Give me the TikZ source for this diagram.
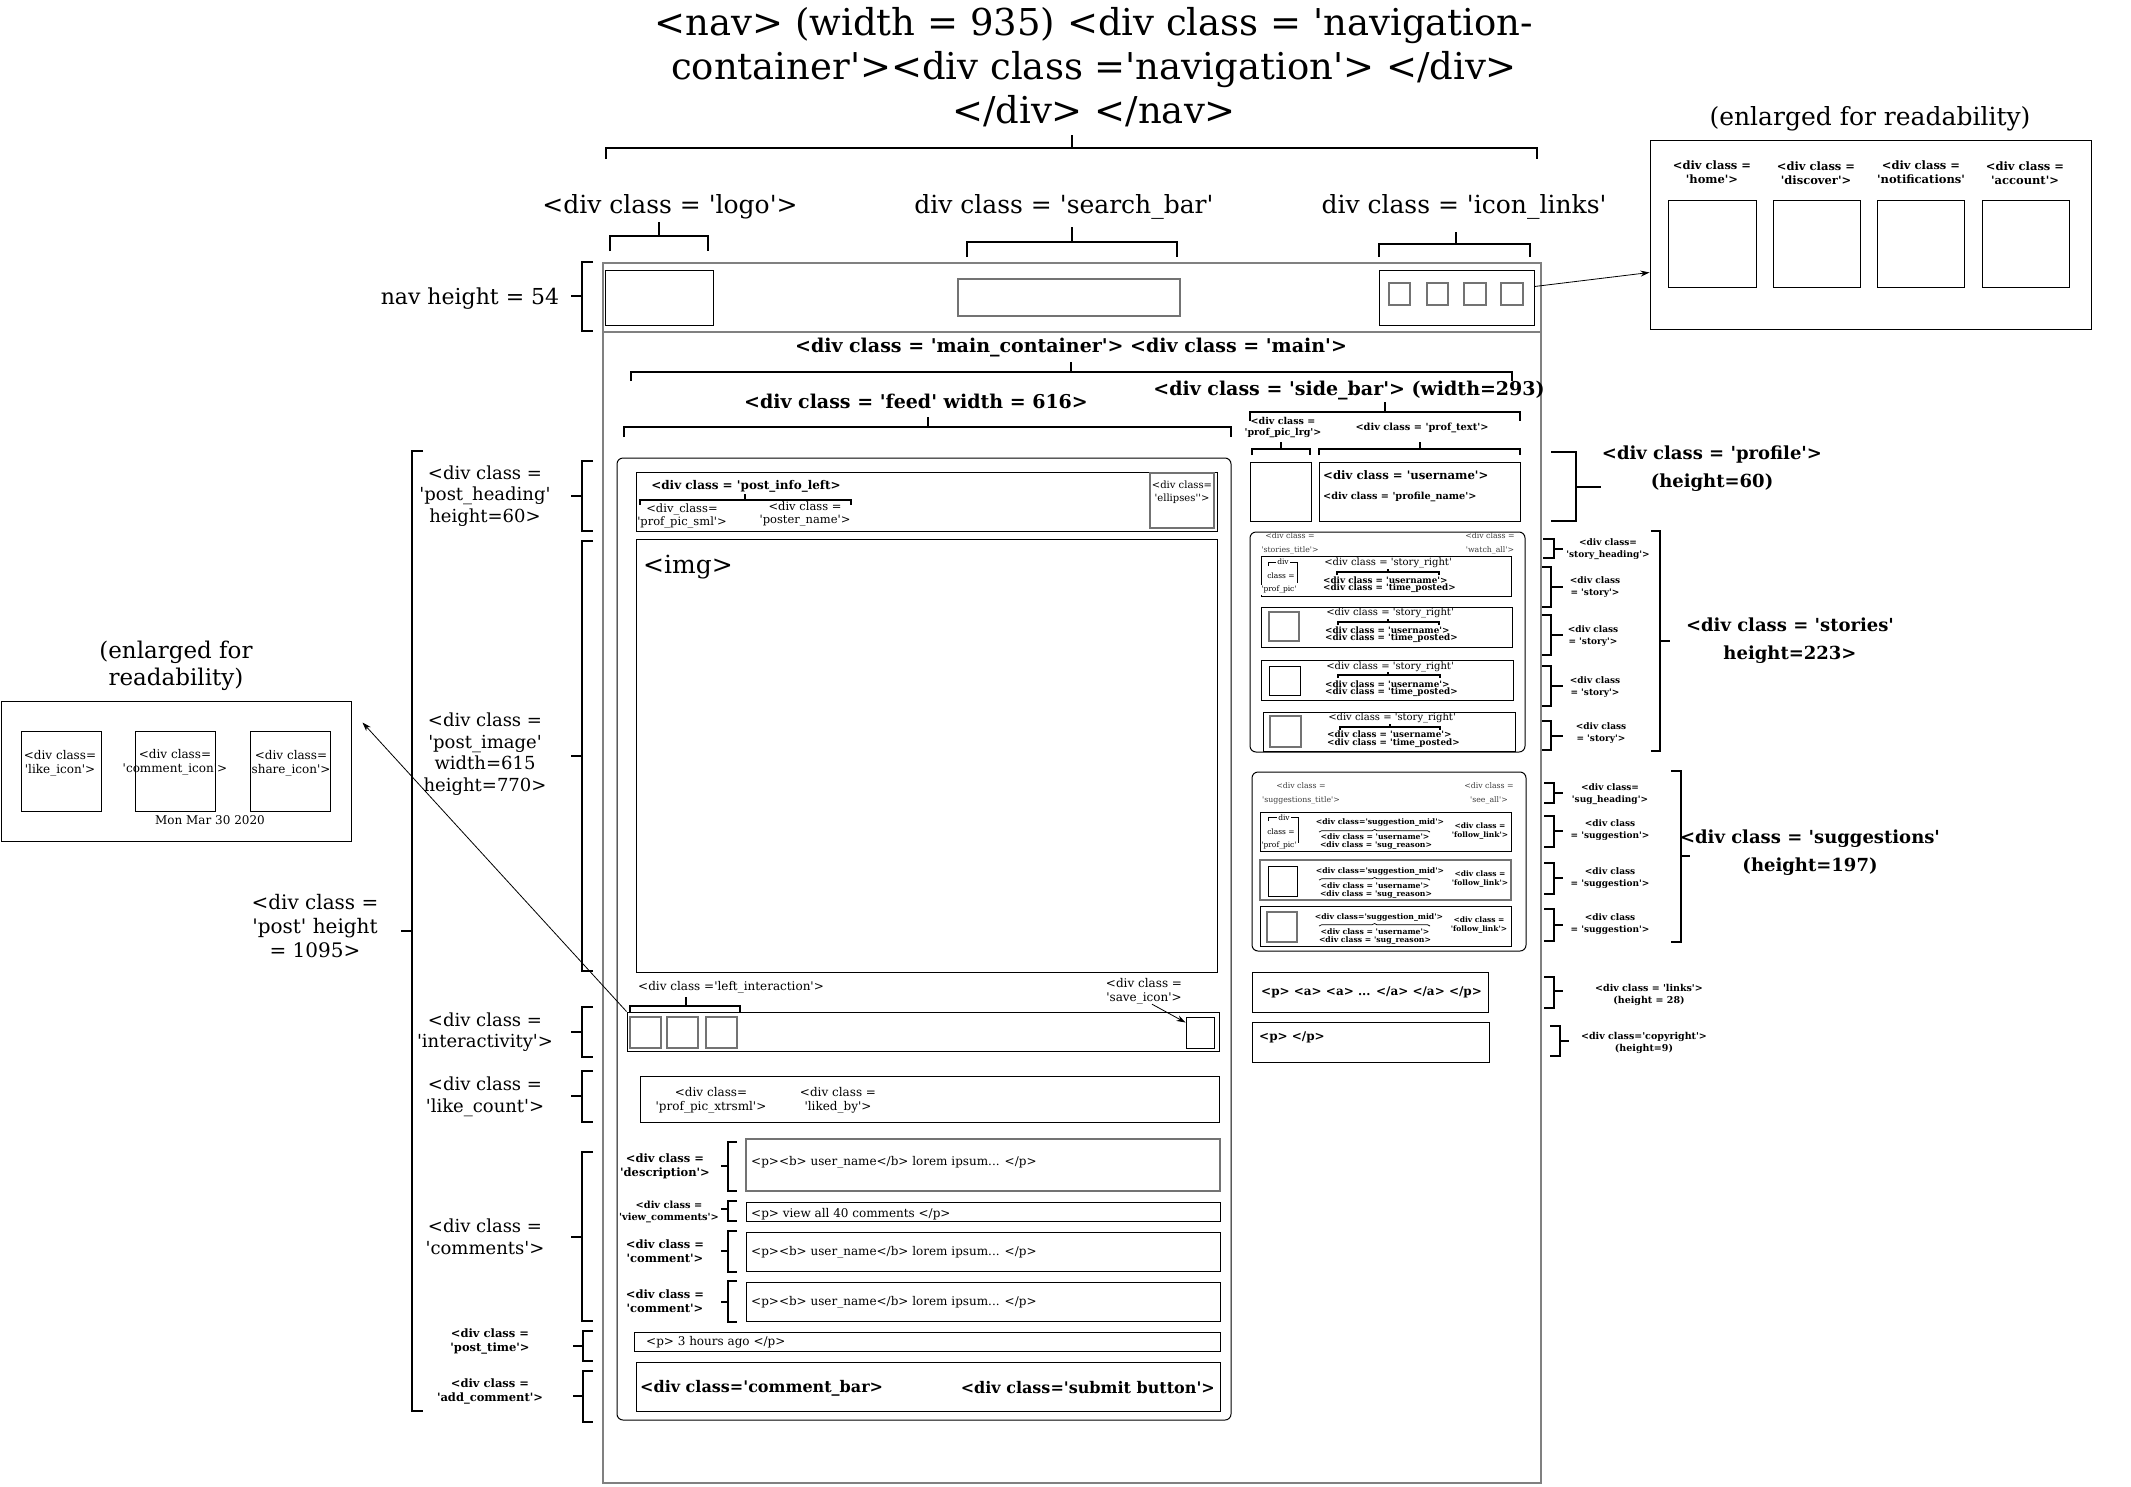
\documentclass[tikz,border=0pt]{standalone}
\usepackage{fontspec}
\setmainfont{DejaVu Serif}[Ligatures=TeXOff]
\usetikzlibrary{fit,decorations.pathreplacing,arrows.meta}
\definecolor{frm}{gray}{0.5}
\newcommand\fz[2]{\fontsize{#1}{#2}\selectfont}
\newcommand\bx[6][box]{\node[#1,fit={(#3,#4) (#5,#6)}] (#2) {};}
\newcommand\tx[5][]{\node[txt,#1] (#2) at (#3,#4) {#5};}
% side bracket: vertical x, top, bottom, end x, tick x, tick y
\newcommand\sbr[6]{\draw[br] (#4,#2) -- (#1,#2) -- (#1,#3) -- (#4,#3); \draw[br] (#1,#6) -- (#5,#6);}
% top bracket: x1, x2, y, ends y, tick x, tick top
\newcommand\tbr[6]{\draw[br] (#1,#4) -- (#1,#3) -- (#2,#3) -- (#2,#4); \draw[br] (#5,#3) -- (#5,#6);}
\newcommand\sml[4]{\draw[smb] (#1,#3+3) -- (#1,#3) -- (#2,#3) -- (#2,#3+3); \draw[smb] (#4,#3) -- (#4,#3-3);}
\tikzset{
 box/.style={draw, line width=1.0pt, inner sep=0pt},
 gbox/.style={draw=black!55, line width=1.3pt, inner sep=0pt},
 rbox/.style={draw, line width=1.0pt, inner sep=0pt, rounded corners=6pt},
 frame/.style={draw=frm, line width=1.6pt, inner sep=0pt},
 br/.style={line width=2.3pt},
 smb/.style={line width=1.4pt},
 arr/.style={-{Stealth[length=9pt,width=6pt]}, line width=0.8pt},
 txt/.style={inner sep=0pt, align=center},
 big/.style={font=\fz{37}{44}},
 lab/.style={font=\fz{25}{28}},
 side/.style={font=\fz{18}{21.5}},
 bmain/.style={font=\fz{19}{22}\bfseries},
 bsec/.style={font=\fz{18}{28}\bfseries},
 n12/.style={font=\fz{12}{14}},
 b12/.style={font=\fz{12}{14}\bfseries},
 b115/.style={font=\fz{11.5}{14}\bfseries},
 rs/.style={font=\fz{9}{12}\bfseries},
 tiny/.style={font=\fz{7.8}{14}, text=black!75},
 st/.style={font=\fz{10}{12}},
 sb/.style={font=\fz{8.8}{9}\bfseries},
 sg/.style={font=\fz{7.7}{9}\bfseries},
}
\begin{document}
\begin{tikzpicture}[x=1pt,y=-1pt]
\path[fill=white] (0,0) rectangle (2131,1486);
\useasboundingbox (0,0) rectangle (2131,1486);

% ---------- title and nav ----------
\tx[big]{title}{1094}{67}{<nav> (width = 935) <div class = 'navigation-\\container'><div class ='navigation'> </div>\\</div> </nav>}
\tbr{606}{1537}{148}{159}{1072}{135}
\tx[lab]{logolbl}{670}{207}{<div class = 'logo'>}
\tx[lab]{searchlbl}{1064}{207}{div class = 'search\_bar'}
\tx[lab]{iconlbl}{1464}{207}{div class = 'icon\_links'}
\tbr{610}{708}{236}{251}{659}{222}
\tbr{967}{1177}{242}{257}{1072}{227}
\tbr{1379}{1530}{244}{257}{1456}{232}

\bx[frame]{outer}{603}{263}{1541}{1483}
\bx[frame]{nav}{603}{263}{1541}{332}
\bx{logo}{605}{270}{713}{325}
\bx[gbox]{search}{958}{279}{1180}{316}
\bx{icons}{1379}{270}{1534}{325}
\bx[gbox]{ic1}{1389}{283}{1410}{305}
\bx[gbox]{ic2}{1427}{283}{1448}{305}
\bx[gbox]{ic3}{1464}{283}{1486}{305}
\bx[gbox]{ic4}{1501}{283}{1523}{305}

\tx[font=\fz{22}{26}]{navh}{470}{299}{nav height = 54}
\sbr{582}{262}{331}{593}{571}{296}

% enlarged nav icons
\tx[lab]{enltitle}{1870}{119}{(enlarged for readability)}
\bx{enl}{1650}{140}{2091}{329}
\bx{home}{1668}{200}{1756}{287}
\bx{disc}{1773}{200}{1860}{287}
\bx{noti}{1877}{200}{1964}{287}
\bx{acct}{1982}{200}{2069}{287}
\tx[b115]{homel}{1712}{172}{<div class =\\'home'>}
\tx[b115]{discl}{1816}{173}{<div class =\\'discover'>}
\tx[b115]{notil}{1921}{172}{<div class =\\'notifications'}
\tx[b115]{acctl}{2025}{173}{<div class =\\'account'>}
\draw[arr] ([yshift=11pt]icons.east) -- ([yshift=-38pt]enl.west);

% ---------- main labels ----------
\tx[bmain]{mainlbl}{1071}{348}{<div class = 'main\_container'> <div class = 'main'>}
\tbr{631}{1512}{372}{381}{1071}{362}
\tx[bmain]{feedlbl}{916}{401}{<div class = 'feed' width = 616>}
\tbr{624}{1231}{427}{437}{928}{417}
\tx[bmain]{sidelbl}{1349}{391}{<div class = 'side\_bar'> (width=293)}
\tbr{1250}{1520}{412}{421}{1385}{402}

% ---------- sidebar: profile ----------
\tx[font=\fz{9.5}{11}\bfseries]{pplbl}{1283}{428}{<div class =\\'prof\_pic\_lrg'>}
\tx[font=\fz{9.8}{11}\bfseries]{ptlbl}{1422}{428}{<div class = 'prof\_text'>}
\tbr{1252}{1310}{449}{455}{1281}{442}
\tbr{1319}{1520}{449}{455}{1420}{442}
\bx{ppl}{1250}{462}{1311}{521}
\bx{ptxt}{1319}{462}{1520}{521}
\tx[anchor=west,font=\fz{11.7}{14}\bfseries]{uname}{1323}{475}{<div class = 'username'>}
\tx[anchor=west,font=\fz{9.7}{12}\bfseries]{pname}{1323}{497}{<div class = 'profile\_name'>}
\sbr{1576}{452}{521}{1551}{1601}{487}
\tx[bsec]{proflbl}{1712}{469}{<div class = 'profile'>\\(height=60)}

% ---------- sidebar: stories ----------
\bx[rbox]{stories}{1250}{532}{1525}{752}
\tx[tiny]{sthd}{1290}{543}{<div class =\\'stories\_title'>}
\tx[tiny]{wahd}{1490}{543}{<div class =\\'watch\_all'>}
% row 1
\bx{sr1}{1261}{556}{1511}{596}
\draw[line width=0.9pt] (1268,566) -- (1268,562) -- (1297,562) -- (1297,583);
\tx[font=\fz{7.5}{9},fill=white,inner sep=1pt]{pp1a}{1283}{562}{div}
\tx[font=\fz{7.5}{9},fill=white,inner sep=1pt]{pp1b}{1281}{576}{class =}
\tx[font=\fz{7.5}{9},fill=white,inner sep=1pt]{pp1c}{1279}{590}{'prof\_pic'}
\tx[st]{sr1t}{1388}{563}{<div class = 'story\_right'}
\sml{1337}{1439}{572}{1388}
\tx[sb,anchor=west]{sr1u}{1323}{580}{<div class = 'username'>}
\tx[sb,anchor=west]{sr1p}{1323}{588}{<div class = 'time\_posted>}
% row 2
\bx{sr2}{1261}{607}{1512}{647}
\bx[gbox]{sq2}{1269}{612}{1299}{641}
\tx[st]{sr2t}{1390}{613}{<div class = 'story\_right'}
\sml{1338}{1439}{622}{1388}
\tx[sb,anchor=west]{sr2u}{1325}{630}{<div class = 'username'>}
\tx[sb,anchor=west]{sr2p}{1325}{638}{<div class = 'time\_posted>}
% row 3
\bx{sr3}{1261}{660}{1513}{700}
\bx{sq3}{1269}{666}{1300}{695}
\tx[st]{sr3t}{1390}{667}{<div class = 'story\_right'}
\sml{1338}{1440}{675}{1388}
\tx[sb,anchor=west]{sr3u}{1325}{684}{<div class = 'username'>}
\tx[sb,anchor=west]{sr3p}{1325}{692}{<div class = 'time\_posted>}
% row 4
\bx{sr4}{1263}{712}{1515}{751}
\bx[gbox]{sq4}{1270}{716}{1301}{747}
\tx[st]{sr4t}{1392}{718}{<div class = 'story\_right'}
\sml{1340}{1440}{727}{1390}
\tx[sb,anchor=west]{sr4u}{1327}{734}{<div class = 'username'>}
\tx[sb,anchor=west]{sr4p}{1327}{743}{<div class = 'time\_posted>}

\sbr{1554}{539}{558}{1543}{1563}{549}
\tx[rs]{sthl}{1608}{549}{<div class=\\'story\_heading'>}
\sbr{1551}{567}{607}{1542}{1563}{587}
\tx[rs]{st1l}{1595}{587}{<div class\\= 'story'>}
\sbr{1551}{615}{655}{1542}{1563}{635}
\tx[rs]{st2l}{1593}{636}{<div class\\= 'story'>}
\sbr{1551}{666}{706}{1542}{1563}{686}
\tx[rs]{st3l}{1595}{687}{<div class\\= 'story'>}
\sbr{1551}{721}{750}{1542}{1563}{736}
\tx[rs]{st4l}{1601}{733}{<div class\\= 'story'>}
\sbr{1660}{531}{751}{1651}{1670}{641}
\tx[bsec]{storlbl}{1790}{641}{<div class = 'stories'\\height=223>}

% ---------- sidebar: suggestions ----------
\bx[rbox]{sugg}{1252}{772}{1526}{951}
\tx[tiny]{sghd}{1301}{793}{<div class =\\'suggestions\_title'>}
\tx[tiny]{sahd}{1489}{793}{<div class =\\'see\_all'>}
% sugg row 1
\bx{sg1}{1260}{812}{1511}{851}
\draw[line width=0.9pt] (1268,821) -- (1268,817) -- (1298,817) -- (1298,843);
\tx[font=\fz{7.5}{9},fill=white,inner sep=1pt]{sp1a}{1284}{818}{div}
\tx[font=\fz{7.5}{9},fill=white,inner sep=1pt]{sp1b}{1281}{832}{class =}
\tx[font=\fz{7.5}{9},fill=white,inner sep=1pt]{sp1c}{1279}{846}{'prof\_pic'}
\tx[sg]{sg1m}{1380}{822}{<div class='suggestion\_mid'>}
\draw[line width=0.7pt, decorate, decoration={brace, amplitude=2.5pt}] (1319,832) -- (1430,832);
\tx[sg]{sg1u}{1375}{837}{<div class = 'username'>}
\tx[sg]{sg1r}{1376}{845}{<div class = 'sug\_reason>}
\tx[font=\fz{7.5}{9}\bfseries]{sg1f}{1480}{831}{<div class =\\'follow\_link'>}
% sugg row 2
\bx[gbox]{sg2}{1260}{860}{1511}{900}
\bx{sgq2}{1268}{866}{1297}{896}
\tx[sg]{sg2m}{1380}{871}{<div class='suggestion\_mid'>}
\draw[line width=0.7pt, decorate, decoration={brace, amplitude=2.5pt}] (1319,880) -- (1430,880);
\tx[sg]{sg2u}{1375}{886}{<div class = 'username'>}
\tx[sg]{sg2r}{1376}{894}{<div class = 'sug\_reason>}
\tx[font=\fz{7.5}{9}\bfseries]{sg2f}{1480}{879}{<div class =\\'follow\_link'>}
% sugg row 3
\bx{sg3}{1260}{906}{1511}{946}
\bx[gbox]{sgq3}{1267}{912}{1297}{942}
\tx[sg]{sg3m}{1379}{917}{<div class='suggestion\_mid'>}
\draw[line width=0.7pt, decorate, decoration={brace, amplitude=2.5pt}] (1319,926) -- (1430,926);
\tx[sg]{sg3u}{1375}{932}{<div class = 'username'>}
\tx[sg]{sg3r}{1375}{940}{<div class = 'sug\_reason>}
\tx[font=\fz{7.5}{9}\bfseries]{sg3f}{1479}{925}{<div class =\\'follow\_link'>}

\sbr{1554}{783}{803}{1544}{1563}{793}
\tx[rs]{sghl}{1610}{794}{<div class=\\'sug\_heading'>}
\sbr{1554}{816}{847}{1544}{1563}{831}
\tx[rs]{sg1l}{1610}{830}{<div class\\= 'suggestion'>}
\sbr{1554}{863}{894}{1544}{1563}{878}
\tx[rs]{sg2l}{1610}{878}{<div class\\= 'suggestion'>}
\sbr{1554}{909}{941}{1544}{1563}{925}
\tx[rs]{sg3l}{1610}{924}{<div class\\= 'suggestion'>}
\sbr{1681}{771}{942}{1671}{1690}{856}
\tx[bsec]{sugglbl}{1810}{853}{<div class = 'suggestions'\\(height=197)}

% links and copyright
\bx{links}{1252}{972}{1488}{1012}
\tx[b12,anchor=west]{linkst}{1261}{992}{<p> <a> <a> ... </a> </a> </p>}
\bx{copy}{1252}{1022}{1489}{1062}
\tx[b12,anchor=west]{copyt}{1259}{1037}{<p> </p>}
\sbr{1554}{977}{1008}{1544}{1563}{991}
\tx[font=\fz{9.5}{12}\bfseries]{linksl}{1649}{995}{<div class = 'links'>\\(height = 28)}
\sbr{1560}{1026}{1056}{1550}{1569}{1041}
\tx[font=\fz{9.5}{12}\bfseries]{copyl}{1644}{1043}{<div class='copyright'>\\(height=9)}

% ---------- feed: post ----------
\bx[rbox]{post}{617}{458}{1231}{1420}
\bx{phead}{636}{472}{1217}{531}
\tx[b12]{pil}{746}{486}{<div class = 'post\_info\_left>}
\tbr{640}{851}{500}{505}{745}{494}
\tx[font=\fz{11.5}{13}]{ppsml}{682}{516}{<div\_class=\\'prof\_pic\_sml'>}
\tx[font=\fz{11.5}{13}]{pname2}{805}{514}{<div class =\\'poster\_name'>}
\bx[gbox]{ell}{1150}{473}{1214}{528}
\tx[font=\fz{10}{13}]{elll}{1182}{492}{<div class=\\'ellipses''>}
\bx{img}{636}{539}{1217}{972}
\tx[lab,anchor=west]{imgl}{643}{567}{<img>}

\tx[n12,anchor=west]{lint}{638}{987}{<div class ='left\_interaction'>}
\tbr{630}{740}{1006}{1013}{686}{997}
\bx{inter}{627}{1012}{1219}{1051}
\bx[gbox]{like}{630}{1017}{661}{1048}
\bx[gbox]{comm}{667}{1017}{698}{1048}
\bx[gbox]{share}{706}{1017}{737}{1048}
\bx{save}{1186}{1017}{1214}{1048}
\tx[n12]{savel}{1144}{991}{<div class =\\'save\_icon'>}
\draw[arr] ([xshift=8pt]savel.south) -- ([yshift=-6pt]save.north west);

\bx{likec}{640}{1076}{1219}{1122}
\tx[n12]{ppx}{711}{1100}{<div class=\\'prof\_pic\_xtrsml'>}
\tx[n12]{likedby}{838}{1100}{<div class =\\'liked\_by'>}

\bx[gbox]{desc}{746}{1139}{1220}{1191}
\tx[n12,anchor=west]{desct}{751}{1162}{<p><b> user\_name</b> lorem ipsum... </p>}
\bx{viewc}{746}{1202}{1220}{1221}
\tx[n12,anchor=west]{viewct}{751}{1214}{<p> view all 40 comments </p>}
\bx{c1}{746}{1232}{1220}{1271}
\tx[n12,anchor=west]{c1t}{751}{1252}{<p><b> user\_name</b> lorem ipsum... </p>}
\bx{c2}{746}{1282}{1220}{1321}
\tx[n12,anchor=west]{c2t}{751}{1302}{<p><b> user\_name</b> lorem ipsum... </p>}
\bx{ptime}{634}{1332}{1220}{1351}
\tx[n12,anchor=west]{ptimet}{646}{1342}{<p> 3 hours ago </p>}
\bx{addc}{636}{1362}{1220}{1411}
\tx[font=\fz{16}{18}\bfseries,anchor=west]{cbar}{640}{1388}{<div class='comment\_bar>}
\tx[font=\fz{16}{18}\bfseries,anchor=east]{subm}{1215}{1388}{<div class='submit button'>}

\sbr{728}{1142}{1191}{737}{721}{1166}
\tx[b115]{descl}{665}{1166}{<div class =\\'description'>}
\sbr{728}{1201}{1221}{737}{721}{1209}
\tx[font=\fz{9.8}{12}\bfseries]{viewl}{669}{1212}{<div class =\\'view\_comments'>}
\sbr{728}{1231}{1272}{737}{721}{1251}
\tx[b115]{c1l}{665}{1251}{<div class =\\'comment'>}
\sbr{728}{1281}{1322}{737}{721}{1302}
\tx[b115]{c2l}{665}{1301}{<div class =\\'comment'>}

% ---------- left labels ----------
\sbr{582}{461}{531}{593}{571}{496}
\tx[side]{phl}{485}{496}{<div class =\\'post\_heading'\\height=60>}
\sbr{582}{541}{971}{593}{571}{756}
\tx[side]{pil2}{485}{754}{<div class =\\'post\_image'\\width=615\\height=770>}
\sbr{582}{1007}{1057}{593}{571}{1032}
\tx[side]{intl}{485}{1032}{<div class =\\'interactivity'>}
\sbr{582}{1071}{1122}{593}{571}{1096}
\tx[side]{lcl}{485}{1097}{<div class =\\'like\_count'>}
\sbr{582}{1152}{1321}{593}{571}{1237}
\tx[side]{cml}{485}{1237}{<div class =\\'comments'>}
\sbr{583}{1331}{1361}{593}{573}{1346}
\tx[b115]{ptl}{490}{1341}{<div class =\\'post\_time'>}
\sbr{583}{1371}{1422}{593}{573}{1396}
\tx[b115]{acl}{490}{1391}{<div class =\\'add\_comment'>}
\sbr{412}{451}{1411}{423}{401}{931}
\tx[font=\fz{20}{24}]{postl}{315}{926}{<div class =\\'post' height\\= 1095>}

% ---------- enlarged interaction icons ----------
\tx[font=\fz{23}{27}]{ienlt}{176}{666}{(enlarged for\\readability)}
\bx{ienl}{1}{701}{351}{841}
\bx{elike}{21}{731}{101}{811}
\bx{ecomm}{135}{731}{215}{811}
\bx{eshare}{250}{731}{330}{811}
\tx[n12]{elikel}{60}{763}{<div class=\\'like\_icon'>}
\tx[n12]{ecomml}{175}{762}{<div class=\\'comment\_icon'>}
\tx[n12]{esharel}{291}{763}{<div class=\\share\_icon'>}
\tx[n12]{date}{210}{820}{Mon Mar 30 2020}
\draw[arr] (inter.north west) -- ([xshift=11pt,yshift=-22pt]ienl.north east);
\end{tikzpicture}
\end{document}
